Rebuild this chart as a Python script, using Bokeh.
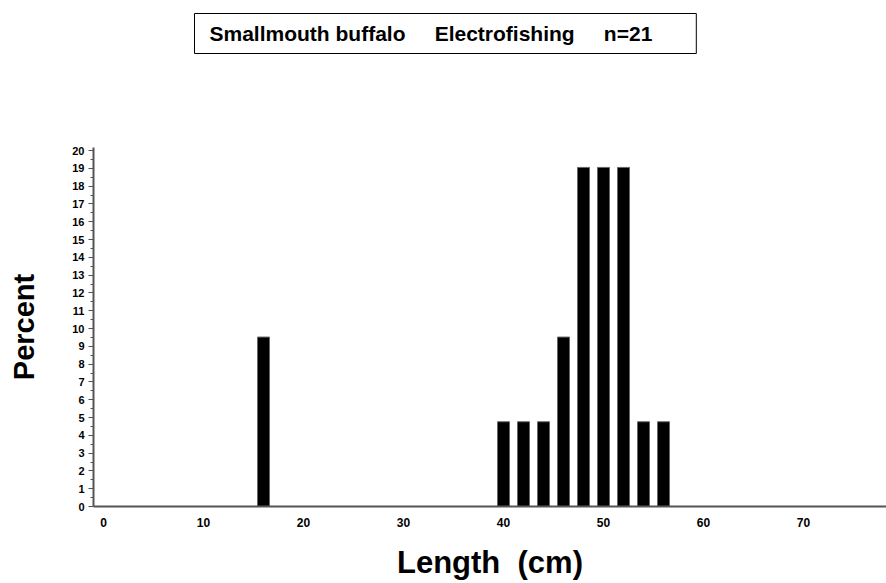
from bokeh.plotting import figure
from bokeh.models import ColumnDataSource, Range1d, FixedTicker, Title
from bokeh.embed import file_html
from bokeh.resources import INLINE

# Data
lengths = [16, 40, 42, 44, 46, 48, 50, 52, 54, 56]
percents = [9.52, 4.76, 4.76, 4.76, 9.52, 19.05, 19.05, 19.05, 4.76, 4.76]
x_ticks = [0, 10, 20, 30, 40, 50, 60, 70]
y_ticks = list(range(0, 21))
SP = "\u00a0" * 5
title_text = "Smallmouth buffalo" + SP + "Electrofishing" + SP + "n=21"

FONT = "Liberation Sans"

src = ColumnDataSource(dict(x=lengths, top=percents))

p = figure(width=886, height=583, output_backend="svg", toolbar_location=None,
           x_range=Range1d(-1, 78.3), y_range=Range1d(0, 20.17),
           min_border_left=93, min_border_right=0, min_border_top=147,
           min_border_bottom=77)
p.outline_line_color = None
p.xgrid.visible = False
p.ygrid.visible = False

p.vbar(x="x", top="top", bottom=0, width=1.2, source=src,
       fill_color="black", line_color="#666666", line_width=1)

# title box
p.title.text = title_text
p.title.align = "left"
p.title.offset = 101
p.title.standoff = 22
p.title.text_font = FONT
p.title.text_font_style = "bold"
p.title.text_font_size = "21px"
p.title.text_color = "black"
p.title.border_line_color = "black"
p.title.border_line_width = 1
p.title.background_fill_color = "white"
p.title.padding = dict(left=15, right=44, top=8, bottom=9)

# empty spacer between the title box and the plot area
spacer = Title(text="\u00a0", text_font_size="1px", standoff=80,
               text_color="white")
p.add_layout(spacer, "above")

# x axis
xa = p.xaxis[0]
xa.ticker = FixedTicker(ticks=x_ticks)
xa.major_tick_out = 0
xa.major_tick_in = 0
xa.minor_tick_out = 0
xa.minor_tick_in = 0
xa.axis_line_color = "#555555"
xa.axis_line_width = 2
xa.major_label_standoff = 11
xa.major_label_text_font = FONT
xa.major_label_text_font_style = "bold"
xa.major_label_text_font_size = "12px"
xa.major_label_text_color = "black"
xa.axis_label = "Length\u00a0\u00a0(cm)"
xa.axis_label_text_font = FONT
xa.axis_label_text_font_style = "bold"
xa.axis_label_text_font_size = "31px"
xa.axis_label_text_color = "black"
xa.axis_label_standoff = 15

# y axis
ya = p.yaxis[0]
ya.ticker = FixedTicker(ticks=y_ticks, minor_ticks=[i + 0.5 for i in range(20)])
ya.major_tick_out = 5
ya.major_tick_in = 0
ya.minor_tick_out = 3
ya.minor_tick_in = 0
ya.axis_line_color = "#555555"
ya.axis_line_width = 2
ya.major_tick_line_color = "#555555"
ya.minor_tick_line_color = "#555555"
ya.major_label_standoff = 4
ya.major_label_text_font = FONT
ya.major_label_text_font_style = "bold"
ya.major_label_text_font_size = "11px"
ya.major_label_text_color = "black"
ya.axis_label = "Percent"
ya.axis_label_text_font = FONT
ya.axis_label_text_font_style = "bold"
ya.axis_label_text_font_size = "29px"
ya.axis_label_text_color = "black"
ya.axis_label_standoff = 29

open("out.html", "w").write(file_html(p, INLINE))
